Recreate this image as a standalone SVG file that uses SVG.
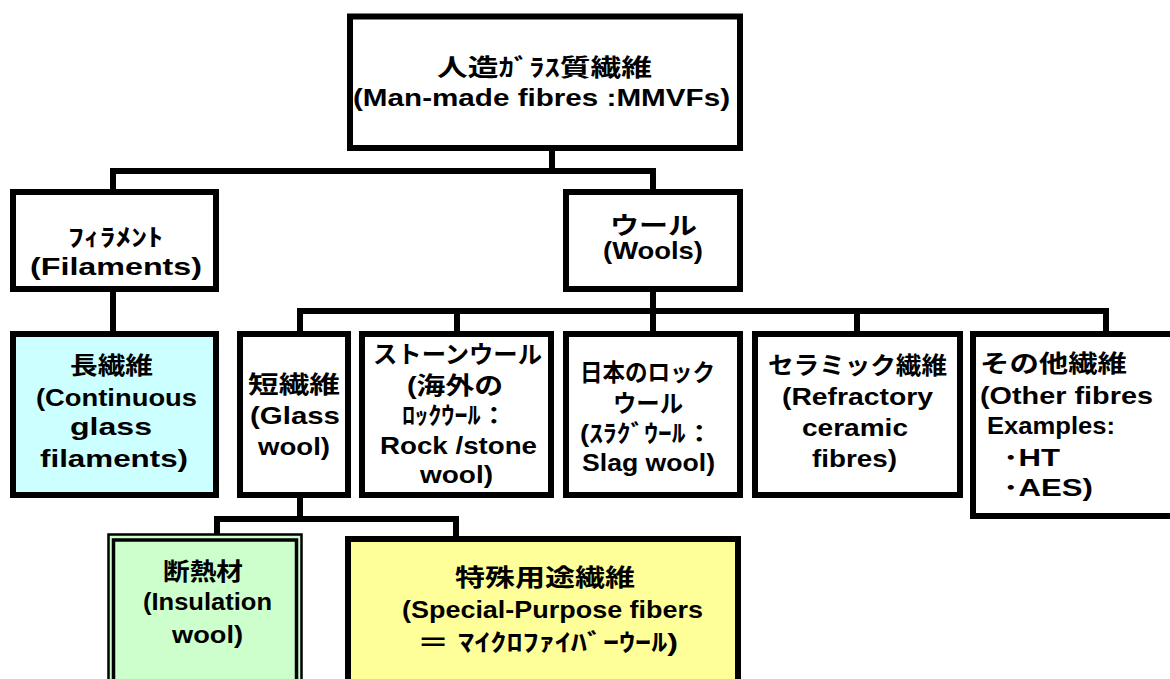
<svg xmlns="http://www.w3.org/2000/svg" width="1170" height="679" viewBox="0 0 1170 679">
<style>
.box{fill:#ffffff;stroke:#000;stroke-width:6}
.cyan{fill:#ccffff}
.yellow{fill:#ffff99}
.green{fill:#ccffcc}
.con{fill:none;stroke:#000;stroke-width:6}
text{font-family:'Liberation Sans','Noto Sans CJK JP',sans-serif;font-weight:bold;font-size:24px;fill:#000;text-anchor:middle}
.l{text-anchor:start}
</style>
<rect x="0" y="0" width="1170" height="679" fill="#ffffff"/>
<g id="connectors">
<path class="con" d="M552,148 V171"/>
<path class="con" d="M113,192 V171 H653 V192"/>
<path class="con" d="M113,289 V334"/>
<path class="con" d="M653,289 V334"/>
<path class="con" d="M300,334 V311 H1106 V334"/>
<path class="con" d="M457,311 V334"/>
<path class="con" d="M857,311 V334"/>
<path class="con" d="M300,495 V519"/>
<path class="con" d="M217,537 V519 H456 V539"/>
</g>
<g id="mmvf">
<rect class="box" x="350" y="16.5" width="390" height="131.5"/>
<text x="544.5" y="76" textLength="215" lengthAdjust="spacingAndGlyphs">人造ｶﾞﾗｽ質繊維</text>
<text x="541.5" y="106" textLength="377" lengthAdjust="spacingAndGlyphs">(Man-made fibres :MMVFs)</text>
</g>
<g id="filaments">
<rect class="box" x="13" y="192" width="203" height="97"/>
<text x="115.5" y="246" textLength="95" lengthAdjust="spacingAndGlyphs">ﾌｨﾗﾒﾝﾄ</text>
<text x="116" y="275" textLength="172" lengthAdjust="spacingAndGlyphs">(Filaments)</text>
</g>
<g id="wools">
<rect class="box" x="566" y="192" width="174" height="97"/>
<text x="653.5" y="234" textLength="87" lengthAdjust="spacingAndGlyphs">ウール</text>
<text x="653" y="259" textLength="100" lengthAdjust="spacingAndGlyphs">(Wools)</text>
</g>
<g id="continuous">
<rect class="box cyan" x="13" y="334" width="203" height="161"/>
<text x="111.5" y="374" textLength="83" lengthAdjust="spacingAndGlyphs">長繊維</text>
<text x="116.5" y="406" textLength="161" lengthAdjust="spacingAndGlyphs">(Continuous</text>
<text x="111" y="435" textLength="82" lengthAdjust="spacingAndGlyphs">glass</text>
<text x="114" y="467" textLength="148" lengthAdjust="spacingAndGlyphs">filaments)</text>
</g>
<g id="glasswool">
<rect class="box" x="240" y="334" width="108" height="161"/>
<text x="294" y="393" textLength="92" lengthAdjust="spacingAndGlyphs">短繊維</text>
<text x="295" y="424" textLength="90" lengthAdjust="spacingAndGlyphs">(Glass</text>
<text x="294" y="455" textLength="72" lengthAdjust="spacingAndGlyphs">wool)</text>
</g>
<g id="stonewool">
<rect class="box" x="362" y="334" width="189" height="161"/>
<text x="457.5" y="363" textLength="169" lengthAdjust="spacingAndGlyphs">ストーンウール</text>
<text x="455" y="394" textLength="96" lengthAdjust="spacingAndGlyphs">(海外の</text>
<text x="454.5" y="424" textLength="105" lengthAdjust="spacingAndGlyphs">ﾛｯｸｳｰﾙ：</text>
<text x="458.5" y="454" textLength="157" lengthAdjust="spacingAndGlyphs">Rock /stone</text>
<text x="456.5" y="483" textLength="73" lengthAdjust="spacingAndGlyphs">wool)</text>
</g>
<g id="slagwool">
<rect class="box" x="566" y="334" width="174" height="161"/>
<text x="647.5" y="381" textLength="135" lengthAdjust="spacingAndGlyphs">日本のロック</text>
<text x="648" y="412" textLength="70" lengthAdjust="spacingAndGlyphs">ウール</text>
<text x="646.5" y="442" textLength="133" lengthAdjust="spacingAndGlyphs">(ｽﾗｸﾞｳｰﾙ：</text>
<text x="648.5" y="471" textLength="133" lengthAdjust="spacingAndGlyphs">Slag wool)</text>
</g>
<g id="ceramic">
<rect class="box" x="755" y="334" width="205" height="161"/>
<text x="857.5" y="374" textLength="179" lengthAdjust="spacingAndGlyphs">セラミック繊維</text>
<text x="857.5" y="405" textLength="151" lengthAdjust="spacingAndGlyphs">(Refractory</text>
<text x="855" y="436" textLength="106" lengthAdjust="spacingAndGlyphs">ceramic</text>
<text x="854.5" y="467" textLength="85" lengthAdjust="spacingAndGlyphs">fibres)</text>
</g>
<g id="other">
<rect class="box" x="973" y="334" width="202" height="182"/>
<text class="l" x="980" y="372" textLength="147" lengthAdjust="spacingAndGlyphs">その他繊維</text>
<text class="l" x="980" y="404" textLength="173" lengthAdjust="spacingAndGlyphs">(Other fibres</text>
<text class="l" x="987" y="434" textLength="128" lengthAdjust="spacingAndGlyphs">Examples:</text>
<text class="l" x="1003" y="466" textLength="57" lengthAdjust="spacingAndGlyphs">･HT</text>
<text class="l" x="1003" y="496" textLength="90" lengthAdjust="spacingAndGlyphs">･AES)</text>
</g>
<g id="insulation">
<rect class="green" x="108.5" y="534.5" width="193" height="170" stroke="#000" stroke-width="2.5"/>
<rect x="113.5" y="540" width="183" height="160" fill="none" stroke="#000" stroke-width="3.5"/>
<text x="203" y="580" textLength="80" lengthAdjust="spacingAndGlyphs">断熱材</text>
<text x="207.5" y="610" textLength="129" lengthAdjust="spacingAndGlyphs">(Insulation</text>
<text x="207.5" y="643" textLength="71" lengthAdjust="spacingAndGlyphs">wool)</text>
</g>
<g id="special">
<rect class="box yellow" x="348" y="539" width="390" height="170"/>
<text x="545" y="586" textLength="180" lengthAdjust="spacingAndGlyphs">特殊用途繊維</text>
<text x="552.5" y="618" textLength="301" lengthAdjust="spacingAndGlyphs">(Special-Purpose fibers</text>
<text x="547.5" y="651" textLength="261" lengthAdjust="spacingAndGlyphs">＝ ﾏｲｸﾛﾌｧｲﾊﾞｰｳｰﾙ)</text>
</g>
</svg>
